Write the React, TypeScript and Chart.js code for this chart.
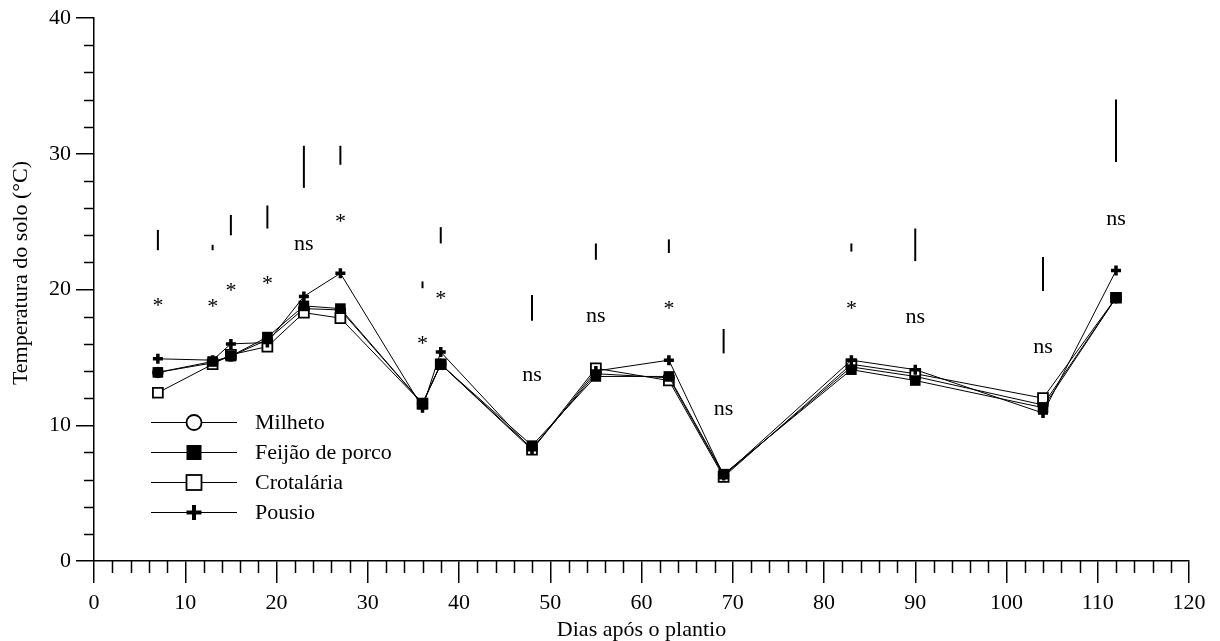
import React, { useEffect, useRef } from 'react';
import { Chart, registerables } from 'chart.js';
Chart.register(...registerables);

const FONT = '"Liberation Serif", "Times New Roman", serif';

// Days after planting
const days = [7, 13, 15, 19, 23, 27, 36, 38, 48, 55, 63, 69, 83, 90, 104, 112];
// Soil temperature (°C) per treatment
const milheto = [13.9, 14.6, 15.1, 16.3, 18.6, 18.5, 11.6, 14.5, 8.3, 13.8, 13.5, 6.3, 14.3, 13.6, 11.5, 19.4];
const feijao = [13.9, 14.7, 15.1, 16.5, 18.8, 18.6, 11.6, 14.5, 8.5, 13.6, 13.6, 6.4, 14.1, 13.3, 11.3, 19.4];
const crotalaria = [12.4, 14.5, 15.2, 15.8, 18.3, 17.9, 11.6, 14.5, 8.2, 14.2, 13.3, 6.2, 14.5, 13.8, 12.0, 19.4];
const pousio = [14.9, 14.8, 16.0, 16.1, 19.5, 21.2, 11.3, 15.4, 8.2, 14.0, 14.8, 6.3, 14.8, 14.1, 10.9, 21.4];
// LSD bars (low / high ends, °C)
const barLow = [22.9, 22.9, 24.0, 24.5, 27.5, 29.2, 20.1, 23.4, 17.7, 22.2, 22.7, 15.3, 22.8, 22.1, 19.9, 29.4];
const barHigh = [24.4, 23.3, 25.5, 26.2, 30.6, 30.6, 20.6, 24.6, 19.6, 23.4, 23.7, 17.1, 23.4, 24.5, 22.4, 34.0];
// Significance labels and their vertical position (°C)
const sigLabels = ['*', '*', '*', '*', 'ns', '*', '*', '*', 'ns', 'ns', '*', 'ns', '*', 'ns', 'ns', 'ns'];
const sigY = [19.1, 19.0, 20.2, 20.7, 23.3, 25.3, 16.3, 19.6, 13.6, 18.0, 18.9, 11.1, 18.9, 17.9, 15.7, 25.1];

const seriesNames = ['Milheto', 'Feijão de porco', 'Crotalária', 'Pousio'];
const xTitle = 'Dias após o plantio';
const yTitle = 'Temperatura do solo (°C)';

const X_MIN = 0, X_MAX = 120, X_MAJOR = 10, X_MINOR = 2;
const Y_MIN = 0, Y_MAX = 40, Y_MAJOR = 10, Y_MINOR = 2;

function drawMarker(ctx: CanvasRenderingContext2D, kind: string, cx: number, cy: number, s: number) {
  ctx.save();
  ctx.strokeStyle = '#000';
  if (kind === 'circle') {
    ctx.fillStyle = '#fff';
    ctx.lineWidth = 1.8;
    ctx.beginPath();
    ctx.arc(cx, cy, s / 2, 0, Math.PI * 2);
    ctx.fill();
    ctx.stroke();
  } else if (kind === 'filled') {
    ctx.fillStyle = '#000';
    ctx.fillRect(cx - s / 2, cy - s / 2, s, s);
  } else if (kind === 'open') {
    ctx.fillStyle = '#fff';
    ctx.lineWidth = 1.8;
    ctx.fillRect(cx - s / 2, cy - s / 2, s, s);
    ctx.strokeRect(cx - s / 2, cy - s / 2, s, s);
  } else {
    ctx.lineWidth = 4;
    ctx.beginPath();
    ctx.moveTo(cx - s / 2, cy);
    ctx.lineTo(cx + s / 2, cy);
    ctx.moveTo(cx, cy - s / 2);
    ctx.lineTo(cx, cy + s / 2);
    ctx.stroke();
  }
  ctx.restore();
}

const overlay = {
  id: 'overlay',
  afterDraw(chart: any) {
    const { ctx, chartArea } = chart;
    const x = chart.scales.x;
    const y = chart.scales.y;
    ctx.save();
    ctx.strokeStyle = '#000';
    ctx.fillStyle = '#000';

    // minor ticks
    ctx.lineWidth = 1.5;
    for (let v = X_MIN; v <= X_MAX; v += X_MINOR) {
      if (v % X_MAJOR === 0) continue;
      const px = Math.round(x.getPixelForValue(v)) + 0.5;
      ctx.beginPath();
      ctx.moveTo(px, chartArea.bottom);
      ctx.lineTo(px, chartArea.bottom + 12);
      ctx.stroke();
    }
    for (let v = Y_MIN; v <= Y_MAX; v += Y_MINOR) {
      if (v % Y_MAJOR === 0) continue;
      const py = Math.round(y.getPixelForValue(v)) + 0.5;
      ctx.beginPath();
      ctx.moveTo(chartArea.left, py);
      ctx.lineTo(chartArea.left - 10, py);
      ctx.stroke();
    }

    // LSD bars
    ctx.lineWidth = 2;
    days.forEach((d, i) => {
      const px = x.getPixelForValue(d);
      ctx.beginPath();
      ctx.moveTo(px, y.getPixelForValue(barLow[i]));
      ctx.lineTo(px, y.getPixelForValue(barHigh[i]));
      ctx.stroke();
    });

    // significance labels
    ctx.font = `22px ${FONT}`;
    ctx.textAlign = 'center';
    ctx.textBaseline = 'alphabetic';
    days.forEach((d, i) => {
      const px = x.getPixelForValue(d);
      const py = y.getPixelForValue(sigY[i]);
      const lab = sigLabels[i];
      const off = lab === '*' ? 10 : 5;
      ctx.fillText(lab, px, py + off);
    });

    // legend
    const kinds = ['circle', 'filled', 'open', 'plus'];
    const lx0 = chartArea.left + 57;
    const lx1 = chartArea.left + 143;
    const mx = chartArea.left + 100;
    const tx = chartArea.left + 161;
    const rowY0 = 422, rowGap = 30;
    ctx.textAlign = 'left';
    ctx.textBaseline = 'middle';
    seriesNames.forEach((name, i) => {
      const ry = rowY0 + i * rowGap + 0.5;
      ctx.lineWidth = 1;
      ctx.beginPath();
      ctx.moveTo(lx0, ry);
      ctx.lineTo(lx1, ry);
      ctx.stroke();
      drawMarker(ctx, kinds[i], mx, ry, 15);
      ctx.fillText(name, tx, ry + 1);
    });

    // axis titles
    ctx.textAlign = 'center';
    ctx.textBaseline = 'middle';
    ctx.fillText(xTitle, (chartArea.left + chartArea.right) / 2, 630);
    ctx.save();
    ctx.translate(21, 273);
    ctx.rotate(-Math.PI / 2);
    ctx.fillText(yTitle, 0, 0);
    ctx.restore();

    ctx.restore();
  },
};

export default function App() {
  const ref = useRef<HTMLCanvasElement | null>(null);
  useEffect(() => {
    if (!ref.current) return;
    const mk = (vals: number[]) => days.map((d, i) => ({ x: d, y: vals[i] }));
    const chart = new Chart(ref.current, {
      type: 'line',
      data: {
        datasets: [
          {
            label: seriesNames[0], data: mk(milheto), order: 4,
            borderColor: '#000', borderWidth: 1, pointStyle: 'circle', pointRadius: 5,
            pointBackgroundColor: '#fff', pointBorderColor: '#000', pointBorderWidth: 1.5,
          },
          {
            label: seriesNames[2], data: mk(crotalaria), order: 3,
            borderColor: '#000', borderWidth: 1, pointStyle: 'rect', pointRadius: 7,
            pointBackgroundColor: '#fff', pointBorderColor: '#000', pointBorderWidth: 1.8,
          },
          {
            label: seriesNames[1], data: mk(feijao), order: 2,
            borderColor: '#000', borderWidth: 1, pointStyle: 'rect', pointRadius: 7.5,
            pointBackgroundColor: '#000', pointBorderColor: '#000', pointBorderWidth: 0,
          },
          {
            label: seriesNames[3], data: mk(pousio), order: 1,
            borderColor: '#000', borderWidth: 1, pointStyle: 'cross', pointRadius: 5,
            pointBackgroundColor: '#000', pointBorderColor: '#000', pointBorderWidth: 3.5,
          },
        ],
      },
      options: {
        responsive: false,
        animation: false,
        clip: false,
        layout: { padding: { left: 0, top: 15, right: 31, bottom: 0 } },
        plugins: { legend: { display: false }, tooltip: { enabled: false } },
        elements: { line: { tension: 0 } },
        scales: {
          x: {
            type: 'linear', min: X_MIN, max: X_MAX,
            afterFit: (s: any) => { s.height = 80; },
            ticks: { stepSize: X_MAJOR, color: '#000', font: { family: FONT, size: 22 }, padding: 7, maxRotation: 0 },
            grid: { display: true, drawOnChartArea: false, drawTicks: true, tickLength: 22, color: '#000', lineWidth: 1.5 },
            border: { display: true, color: '#000', width: 1.5 },
          },
          y: {
            type: 'linear', min: Y_MIN, max: Y_MAX,
            afterFit: (s: any) => { s.width = 94; },
            ticks: { stepSize: Y_MAJOR, color: '#000', font: { family: FONT, size: 22 }, padding: 5 },
            grid: { display: true, drawOnChartArea: false, drawTicks: true, tickLength: 18, color: '#000', lineWidth: 1.5 },
            border: { display: true, color: '#000', width: 1.5 },
          },
        },
      } as any,
      plugins: [overlay],
    });
    return () => chart.destroy();
  }, []);
  return (
    <div style={{ position: 'fixed', left: 0, top: 0, width: 1220, height: 641, background: '#fff' }}>
      <canvas ref={ref} width={1220} height={641} style={{ display: 'block', width: 1220, height: 641 }} />
    </div>
  );
}
